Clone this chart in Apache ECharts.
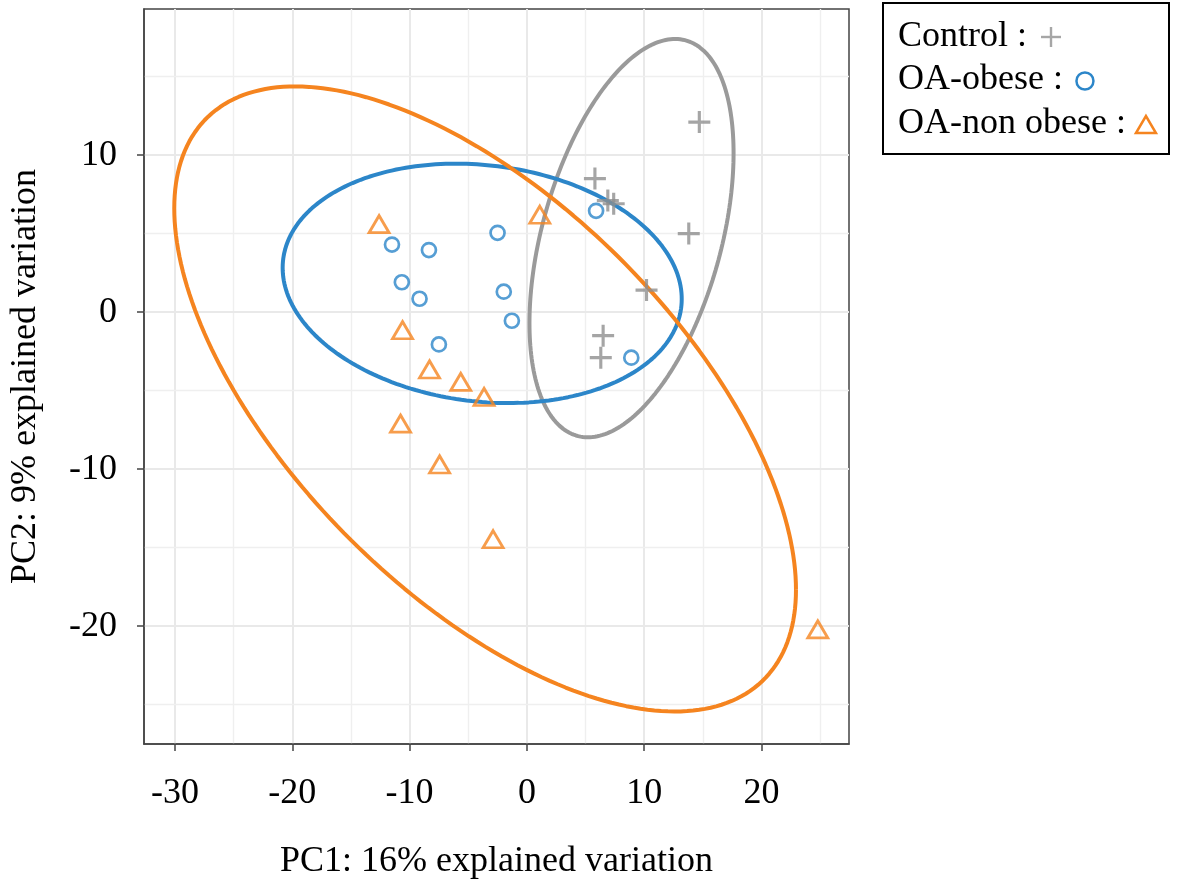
<!DOCTYPE html>
<html>
<head>
<meta charset="utf-8">
<script src="https://cdn.jsdelivr.net/npm/echarts@6/dist/echarts.min.js"></script>
<style>html,body{margin:0;padding:0;background:#fff}#c{width:1179px;height:888px}</style>
</head>
<body>
<div id="c"></div>
<script>
// ---- data ----
const groupNames = ['Control', 'OA-obese', 'OA-non obese'];
const controlPts = [[14.7,12.1],[5.8,8.5],[6.9,7.1],[7.4,6.9],[13.8,5.0],[10.2,1.4],[6.5,-1.5],[6.3,-2.9]];
const obesePts = [[-11.5,4.3],[-8.35,3.95],[-2.5,5.05],[-10.66,1.9],[-9.15,0.85],[-1.97,1.3],[-1.28,-0.55],[-7.5,-2.06],[5.9,6.45],[8.9,-2.9]];
const nonObesePts = [[-12.6,5.6],[-10.6,-1.15],[-8.3,-3.65],[-5.64,-4.44],[-3.65,-5.4],[-10.77,-7.1],[-7.44,-9.7],[-2.88,-14.46],[1.1,6.2],[24.8,-20.2]];
// ellipse parameters: [centerX, centerY, halfWidthX, halfHeightY, correlation]
const controlEllipse = [8.92, 4.71, 8.70, 12.68, 0.427];
const obeseEllipse = [-3.81, 1.83, 17.01, 7.62, -0.13];
const nonObeseEllipse = [-3.56, -5.53, 26.5, 19.9, -0.61];
const xTicks = [-30, -20, -10, 0, 10, 20];
const yTicks = [-20, -10, 0, 10];
const xGrid = [-30, -25, -20, -15, -10, -5, 0, 5, 10, 15, 20, 25];
const yGrid = [-25, -20, -15, -10, -5, 0, 5, 10, 15];
const xTitle = 'PC1: 16% explained variation';
const yTitle = 'PC2: 9% explained variation';

const colors = {gray: '#8f8f8f', grayLine: '#9a9a9a', legendGray: '#a6a6a6', blue: '#2c86c9', orange: '#f5841f'};
const serif = "'Liberation Serif', 'DejaVu Serif', serif";
const fs = 36;

function ellipsePath(p) {
  const [cx, cy, ax, ay, r] = p;
  const s = Math.sqrt(1 - r * r);
  const out = [];
  const N = 240;
  for (let i = 0; i <= N; i++) {
    const t = 2 * Math.PI * i / N;
    out.push([cx + ax * Math.cos(t), cy + ay * (r * Math.cos(t) + s * Math.sin(t))]);
  }
  return out;
}

const plusPath = 'path://M9,0H12V21H9Z M0,9H21V12H0Z';

function gl(v) {
  const major = v % 10 === 0;
  return {width: major ? 2 : 1.4, color: major ? '#e9e9e9' : '#efefef', type: 'solid'};
}
const gridLines = xGrid.map(v => ({xAxis: v, lineStyle: gl(v)}))
  .concat(yGrid.map(v => ({yAxis: v, lineStyle: gl(v)})));

// ---- legend drawn as graphic (text then symbol, like the reference) ----
const ctx = document.createElement('canvas').getContext('2d');
ctx.font = fs + "px 'Liberation Serif'";
const legX = 898, legY = [37, 80, 124], symGap = 24;
const legendLabels = groupNames.map(n => n + ' :');
const legendGraphics = [
  {type: 'rect', shape: {x: 883, y: 3, width: 286, height: 151}, style: {fill: '#fff', stroke: '#000', lineWidth: 2}, z: 10}
];
legendLabels.forEach((t, i) => {
  legendGraphics.push({type: 'text', x: legX, y: legY[i], z: 11,
    style: {text: t, font: fs + 'px ' + serif, fill: '#000', textVerticalAlign: 'middle', textAlign: 'left'}});
});
const w = legendLabels.map(t => ctx.measureText(t).width);
const c0 = legX + w[0] + symGap, c1 = legX + w[1] + symGap - 2, c2 = legX + w[2] + symGap - 4;
legendGraphics.push(
  {type: 'line', z: 11, shape: {x1: c0 - 10, y1: legY[0], x2: c0 + 10, y2: legY[0]}, style: {stroke: colors.legendGray, lineWidth: 2.4}},
  {type: 'line', z: 11, shape: {x1: c0, y1: legY[0] - 10, x2: c0, y2: legY[0] + 10}, style: {stroke: colors.legendGray, lineWidth: 2.4}},
  {type: 'circle', z: 11, shape: {cx: c1, cy: legY[1] + 1, r: 8.5}, style: {fill: 'none', stroke: colors.blue, lineWidth: 2.5}},
  {type: 'polygon', z: 11, shape: {points: [[c2 - 10, legY[2] + 9], [c2 + 10, legY[2] + 9], [c2, legY[2] - 8]]}, style: {fill: 'none', stroke: colors.orange, lineWidth: 2.5}}
);

const chart = echarts.init(document.getElementById('c'), null, {renderer: 'canvas'});
chart.setOption({
  animation: false,
  backgroundColor: '#fff',
  grid: {left: 144, right: 1179 - 849, top: 9, bottom: 888 - 744, show: true, borderColor: '#444', borderWidth: 1.5, backgroundColor: 'transparent'},
  xAxis: {
    type: 'value', min: -32.64, max: 27.46,
    splitLine: {show: false},
    axisLine: {show: true, onZero: false, lineStyle: {color: '#444', width: 1.5}},
    axisTick: {show: true, customValues: xTicks, length: 7, lineStyle: {color: '#444', width: 1.5}},
    axisLabel: {customValues: xTicks, fontSize: fs, fontFamily: serif, color: '#000', margin: 32},
    name: xTitle, nameLocation: 'middle', nameGap: 100,
    nameTextStyle: {fontSize: fs, fontFamily: serif, color: '#000'}
  },
  yAxis: {
    type: 'value', min: -27.5, max: 19.3,
    splitLine: {show: false},
    axisLine: {show: true, onZero: false, lineStyle: {color: '#444', width: 1.5}},
    axisTick: {show: true, customValues: yTicks, length: 7, lineStyle: {color: '#444', width: 1.5}},
    axisLabel: {customValues: yTicks, fontSize: fs, fontFamily: serif, color: '#000', margin: 27},
    name: yTitle, nameLocation: 'middle', nameGap: 100, nameRotate: 90,
    nameTextStyle: {fontSize: fs, fontFamily: serif, color: '#000'}
  },
  graphic: legendGraphics,
  series: [
    {type: 'line', data: [], silent: true, z: 0, zlevel: 0,
     markLine: {silent: true, symbol: 'none', z: 0, label: {show: false}, emphasis: {disabled: true}, animation: false, data: gridLines}},
    {name: 'ctrlEll', type: 'line', data: ellipsePath(controlEllipse), showSymbol: false, silent: true, z: 2,
     lineStyle: {color: colors.grayLine, width: 4}},
    {name: 'obeseEll', type: 'line', data: ellipsePath(obeseEllipse), showSymbol: false, silent: true, z: 2,
     lineStyle: {color: colors.blue, width: 4}},
    {name: 'nonObeseEll', type: 'line', data: ellipsePath(nonObeseEllipse), showSymbol: false, silent: true, z: 2,
     lineStyle: {color: colors.orange, width: 4}},
    {name: groupNames[0], type: 'scatter', data: controlPts, symbol: plusPath, symbolSize: 22, z: 3,
     itemStyle: {color: colors.gray}},
    {name: groupNames[1], type: 'scatter', data: obesePts, symbol: 'circle', symbolSize: 14, z: 3,
     itemStyle: {color: '#fff', borderColor: colors.blue, borderWidth: 2.7}},
    {name: groupNames[2], type: 'scatter', data: nonObesePts, symbol: 'triangle', symbolSize: [20, 17], z: 3,
     itemStyle: {color: 'rgba(255,255,255,0)', borderColor: colors.orange, borderWidth: 2.8}}
  ]
});
</script>
</body>
</html>
